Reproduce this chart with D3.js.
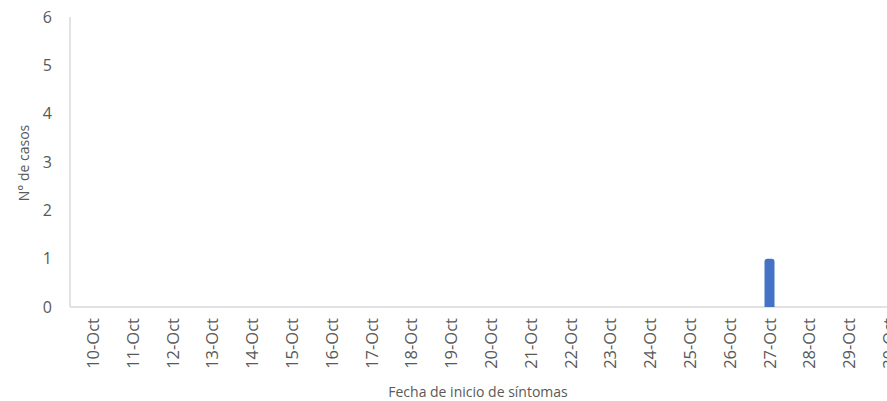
<!DOCTYPE html>
<html><head><meta charset="utf-8">
<script src="https://cdn.jsdelivr.net/npm/d3@7"></script>
<style>body{margin:0;background:#fff}text{font-family:"Open Sans",sans-serif;fill:#595959}</style>
</head><body>
<svg id="c" width="887" height="401"></svg>
<script>
const categories = ["10-Oct","11-Oct","12-Oct","13-Oct","14-Oct","15-Oct","16-Oct","17-Oct","18-Oct","19-Oct","20-Oct","21-Oct","22-Oct","23-Oct","24-Oct","25-Oct","26-Oct","27-Oct","28-Oct","29-Oct","30-Oct"];
const casos = [0,0,0,0,0,0,0,0,0,0,0,0,0,0,0,0,0,1,0,0,0];
const yTicks = [0,1,2,3,4,5,6];

const svg = d3.select("#c");
const x0 = 70, yTop = 17, yBot = 307;
const x = d3.scaleBand().domain(categories).range([73, 73 + 39.8*categories.length]).paddingInner(0.74).paddingOuter(0.37);
const y = d3.scaleLinear().domain([0,6]).range([yBot, yTop]);

svg.append("line").attr("x1",x0).attr("x2",x0).attr("y1",yTop).attr("y2",yBot).attr("stroke","#d9d9d9").attr("stroke-width",1.5);
svg.append("line").attr("x1",x0).attr("x2",887).attr("y1",yBot).attr("y2",yBot).attr("stroke","#d9d9d9").attr("stroke-width",1.5);

svg.selectAll(".yt").data(yTicks).enter().append("text")
  .attr("x",52).attr("y",d=>y(d)).attr("dy","0.35em").attr("text-anchor","end")
  .style("font-size","16px").text(d=>d);

const bw = 10;
svg.selectAll(".bar").data(categories.map((c,i)=>({c,v:casos[i]})).filter(d=>d.v>0)).enter().append("path")
  .attr("fill","#4472C4")
  .attr("d",d=>{
    const cx = x(d.c)+x.bandwidth()/2, l = cx-bw/2, r = cx+bw/2, t = y(d.v), b = yBot, rr = 3;
    return `M${l},${b}V${t+rr}Q${l},${t} ${l+rr},${t}H${r-rr}Q${r},${t} ${r},${t+rr}V${b}Z`;
  });

svg.selectAll(".xt").data(categories).enter().append("text")
  .attr("transform",d=>`translate(${x(d)+x.bandwidth()/2+6},318) rotate(-90)`)
  .attr("text-anchor","end").style("font-size","16.5px").text(d=>d);

svg.append("text").attr("x",478).attr("y",397).attr("text-anchor","middle").style("font-size","14px").text("Fecha de inicio de síntomas");
svg.append("text").attr("transform","translate(29,163) rotate(-90)").attr("text-anchor","middle").style("font-size","14px").text("N° de casos");
</script>
</body></html>
